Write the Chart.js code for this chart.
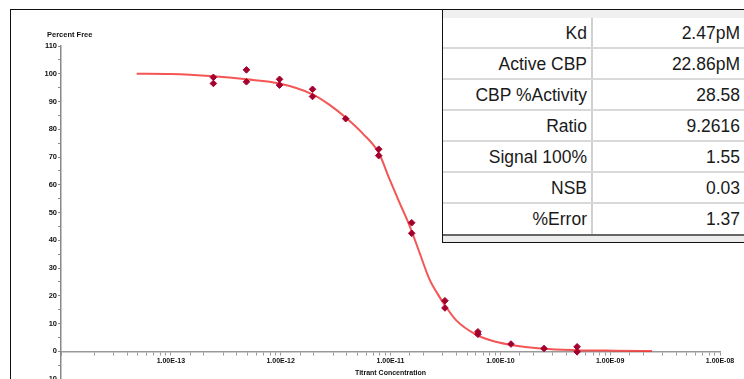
<!DOCTYPE html>
<html>
<head>
<meta charset="utf-8">
<script src="https://cdn.jsdelivr.net/npm/chart.js@4"></script>
<style>
  html, body { margin: 0; padding: 0; background: #fff; overflow: hidden; }
  body { width: 744px; height: 379px; position: relative; }
  #frame {
    position: absolute; left: 10px; top: 9px; width: 800px; height: 400px;
    border-left: 1.5px solid #111; border-top: 1.5px solid #111;
  }
  #plot { position: absolute; left: 0; top: 0; }
  #stats {
    position: absolute; left: 442px; top: 9px; width: 330px;
    background: #fff; border-left: 1.5px solid #111; border-top: 1.5px solid #111;
    border-bottom: 1.5px solid #111;
    font-family: "Liberation Sans", Arial, sans-serif; font-size: 17.5px; color: #1a1a1a;
  }
  #stats .band { height: 8px; background: #f0f0f0; }
  #stats .band2 { height: 6px; background: #ececec; }
  #stats .row { display: flex; height: 29px; border-bottom: 2px solid #d9d9d9; }
  #stats .row.last { height: 30px; border-bottom: 2px solid #666; }
  #stats .lab { width: 144px; padding-right: 4px; border-right: 2px solid #d0d0d0; text-align: right; line-height: 31px; }
  #stats .val { width: 147px; padding-right: 24px; text-align: right; line-height: 31px; }
</style>
</head>
<body>
<div id="frame"></div>
<canvas id="plot" width="744" height="384"></canvas>
<div id="stats"></div>
<script>
// measured points (titrant concentration, percent free)
const pointConc = [
  2.44e-13, 2.44e-13, 4.88e-13, 4.88e-13, 9.77e-13, 9.77e-13,
  1.95e-12, 1.95e-12, 3.91e-12, 7.81e-12, 7.81e-12,
  1.56e-11, 1.56e-11, 3.13e-11, 3.13e-11, 6.25e-11, 6.25e-11,
  1.25e-10, 2.5e-10, 5e-10, 5e-10
];
const pointFree = [
  98.7, 96.5, 101.4, 97.1, 98.0, 95.9,
  94.4, 91.8, 83.8, 72.8, 70.5,
  46.3, 42.5, 18.2, 15.6, 7.0, 6.1,
  2.6, 1.0, 1.6, -0.2
];

// fitted curve
const curveConc = [
  4.88e-14, 1e-13, 2.44e-13, 4.88e-13, 9.77e-13, 1.95e-12, 2.79e-12, 3.91e-12,
  5.6e-12, 7.81e-12, 9.8e-12, 1.21e-11, 1.49e-11, 1.84e-11, 2.26e-11, 2.79e-11,
  3.1e-11, 3.95e-11, 6.0e-11, 9.1e-11, 1.29e-10, 2.46e-10, 4.9e-10, 1.1e-9, 2.4e-9
];
const curveFree = [
  100.0, 99.9, 99.1, 98.0, 96.5, 92.6, 88.8, 84.2,
  78.4, 71.5, 62.0, 53.5, 45.3, 35.5, 26.0, 19.6,
  16.8, 11.2, 6.0, 3.4, 2.2, 0.9, 0.4, 0.2, 0.1
];

// y ticks every 5, labels every 10
const yMin = -10, yMax = 110, yStep = 5;
const xMin = 1e-14, xMax = 1e-8;

const statLabels = ['Kd', 'Active CBP', 'CBP %Activity', 'Ratio', 'Signal 100%', 'NSB', '%Error'];
const statValues = ['2.47pM', '22.86pM', '28.58', '9.2616', '1.55', '0.03', '1.37'];

// stats table
const stats = document.getElementById('stats');
let html = '<div class="band"></div>';
statLabels.forEach((lab, i) => {
    const cls = i === statLabels.length - 1 ? 'row last' : 'row';
    html += `<div class="${cls}"><div class="lab">${lab}</div><div class="val">${statValues[i]}</div></div>`;
});
html += '<div class="band2"></div>';
stats.innerHTML = html;

function sciLabel(v) {
    const e = Math.round(Math.log10(v));
    const sign = e < 0 ? '-' : '+';
    const mag = String(Math.abs(e)).padStart(2, '0');
    return '1.00E' + sign + mag;
}

const tickFont = { family: '"Liberation Sans", Arial, sans-serif', size: 7.5, weight: 'bold' };

// "Percent Free" caption above the y axis
const yCaption = {
    id: 'yCaption',
    afterDraw(chart) {
        const ctx = chart.ctx;
        ctx.save();
        ctx.font = 'bold 7.5px "Liberation Sans", Arial, sans-serif';
        ctx.fillStyle = '#111';
        ctx.textAlign = 'left';
        ctx.textBaseline = 'middle';
        ctx.fillText('Percent Free', chart.scales.y.right - 14, chart.chartArea.top - 11);
        ctx.restore();
    }
};

const ctx = document.getElementById('plot');
new Chart(ctx, {
    data: {
        datasets: [
            {
                type: 'scatter',
                label: 'Measured',
                data: pointConc.map((c, i) => ({ x: c, y: pointFree[i] })),
                pointStyle: 'rectRot',
                pointRadius: 3.3,
                backgroundColor: '#a3002e',
                borderColor: '#a3002e',
                borderWidth: 1,
                order: 0
            },
            {
                type: 'line',
                label: 'Fit',
                data: curveConc.map((c, i) => ({ x: c, y: curveFree[i] })),
                borderColor: 'rgba(242, 48, 48, 0.82)',
                borderWidth: 2,
                pointRadius: 0,
                fill: false,
                cubicInterpolationMode: 'monotone',
                order: 1
            }
        ]
    },
    options: {
        responsive: false,
        animation: false,
        layout: { padding: { top: 46, right: 24, left: 0, bottom: 0 } },
        plugins: {
            legend: { display: false },
            tooltip: { enabled: false }
        },
        scales: {
            x: {
                type: 'logarithmic',
                position: { y: 0 },
                min: xMin,
                max: xMax,
                border: { color: '#999', width: 1.5 },
                grid: { drawOnChartArea: false, tickLength: 3, color: '#999' },
                ticks: {
                    autoSkip: false,
                    maxRotation: 0,
                    padding: 3,
                    color: '#111',
                    font: { ...tickFont, size: 7 },
                    callback: function(value) {
                        const lg = Math.log10(value);
                        if (Math.abs(lg - Math.round(lg)) > 1e-6) return '';
                        if (value <= xMin * 1.0001) return '';
                        return sciLabel(value);
                    }
                },
                title: {
                    display: true,
                    text: 'Titrant Concentration',
                    color: '#111',
                    font: { ...tickFont, size: 7 },
                    padding: { top: 0, bottom: 0 }
                }
            },
            y: {
                min: yMin,
                max: yMax,
                border: { color: '#888', width: 1.5 },
                grid: { drawOnChartArea: false, tickLength: 3, color: '#888' },
                ticks: {
                    stepSize: yStep,
                    padding: 1,
                    color: '#111',
                    font: tickFont,
                    callback: function(value) {
                        return value % 10 === 0 ? String(value) : '';
                    }
                },
                afterFit: function(scale) {
                    scale.width = 61;
                    scale.paddingTop = 0;
                    scale.paddingBottom = 0;
                }
            }
        }
    },
    plugins: [yCaption]
});
</script>
</body>
</html>
